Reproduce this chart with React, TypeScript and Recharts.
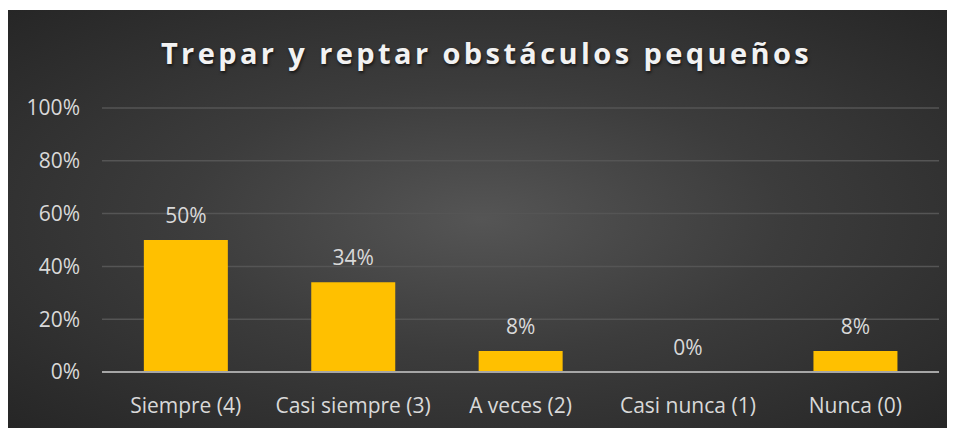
import { BarChart, Bar, XAxis, YAxis, CartesianGrid, LabelList } from 'recharts'

const categories = ['Siempre (4)', 'Casi siempre (3)', 'A veces (2)', 'Casi nunca (1)', 'Nunca (0)']
const percentages = [50, 34, 8, 0, 8]
const yTicks = [0, 20, 40, 60, 80, 100]

const data = categories.map((name, i) => ({ name, value: percentages[i] }))

const font = '"Open Sans", sans-serif'
const formatPct = (v: number) => `${v}%`

// value label above each bar, the zero bar included
const renderValue = (props: any) => {
  const { x, y, width, value } = props
  return (
    <text
      x={Number(x) + Number(width) / 2}
      y={Number(y) - 17}
      textAnchor="middle"
      fontSize={21}
      fill="#d9d9d9"
      fontFamily={font}
    >
      {formatPct(value)}
    </text>
  )
}

export default function App() {
  return (
    <div
      style={{
        position: 'relative',
        width: 947,
        height: 418,
        marginTop: 2,
        background: 'radial-gradient(ellipse at 50% 50%, #555555 0%, #3c3c3c 45%, #262626 100%)',
        fontFamily: font,
      }}
    >
      <div
        style={{
          position: 'absolute',
          top: 23,
          left: 5,
          width: 947,
          textAlign: 'center',
          color: '#f2f2f2',
          fontSize: 29,
          fontWeight: 700,
          letterSpacing: 3.4,
          textShadow: '1px 2px 3px rgba(0,0,0,0.6)',
        }}
      >
        Trepar y reptar obstáculos pequeños
      </div>
      <BarChart
        width={947}
        height={418}
        data={data}
        margin={{ top: 98, right: 16, bottom: 26, left: 0 }}
        barCategoryGap="25%"
      >
        <CartesianGrid vertical={false} stroke="#555555" strokeWidth={1.5} />
        <XAxis
          dataKey="name"
          axisLine={{ stroke: '#a6a6a6', strokeWidth: 2 }}
          tickLine={false}
          tickSize={0}
          tickMargin={26}
          tick={{ fontSize: 21, fill: '#d9d9d9', fontFamily: font }}
          interval={0}
        />
        <YAxis
          domain={[0, 100]}
          ticks={yTicks}
          tickFormatter={formatPct}
          axisLine={false}
          tickLine={false}
          tickSize={0}
          tickMargin={22}
          width={94}
          tick={{ fontSize: 21, fill: '#d9d9d9', fontFamily: font }}
        />
        <Bar dataKey="value" fill="#ffc000" minPointSize={0.01} isAnimationActive={false}>
          <LabelList dataKey="value" content={renderValue} />
        </Bar>
      </BarChart>
    </div>
  )
}
